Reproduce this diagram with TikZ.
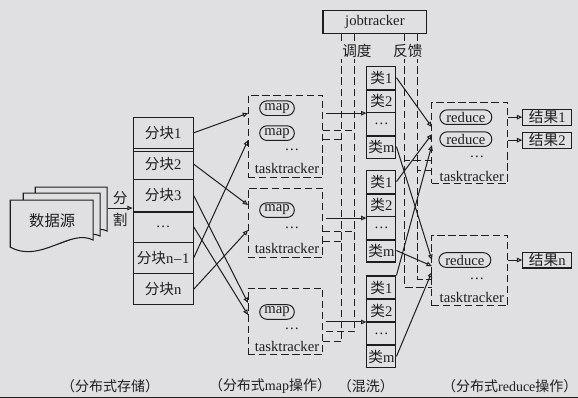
\documentclass[tikz,border=0pt]{standalone}
\usepackage{fontspec}
\setmainfont{Liberation Serif}
\newfontfamily\cjk{Noto Sans CJK SC}
\usetikzlibrary{arrows.meta,calc}
\definecolor{paper}{RGB}{224,224,226}
\definecolor{ink}{RGB}{30,30,30}

\begin{document}
\begin{tikzpicture}[x=0.75pt,y=-0.75pt,
  font=\fontsize{11}{13}\selectfont,
  every node/.style={inner sep=0pt,text=ink},
  every path/.style={draw=ink},
  tip/.style={-{Triangle[open,length=4pt,width=3.4pt]},line width=0.75pt},
  ctrl/.style={line width=0.75pt,dash pattern=on 5.5pt off 2.8pt},
  cell/.style={draw=ink,line width=0.8pt,fill=paper,minimum width=45pt,minimum height=23.5pt},
  kind/.style={draw=ink,line width=0.8pt,fill=paper,minimum width=21.75pt,minimum height=17.25pt},
  tracker/.style={draw=ink,line width=0.75pt,dash pattern=on 5.5pt off 2.8pt},
  task/.style={draw=ink,line width=0.75pt,rounded corners=5.5pt,inner xsep=3pt,minimum height=11pt},
  dots/.style={text height=1.5pt,text depth=0pt},
  result/.style={draw=ink,line width=0.8pt,fill=paper,minimum width=36.75pt,minimum height=12pt},
  caption/.style={fill=paper,inner sep=1pt}
]
\useasboundingbox (0,0) rectangle (578,397);
\fill[paper,draw=none] (0,0) rectangle (578,397);

% data source: a stack of three documents, back to front
\begin{scope}[line width=0.8pt,fill=paper]
  \filldraw (35,187) -- (107,187) -- (107,231) .. controls (90,222) and (62,252) .. (35,238) -- cycle;
  \filldraw (23,193) -- (100,193) -- (100,236) .. controls (80,226) and (52,258) .. (23,243) -- cycle;
  \filldraw (10,200) -- (93,200) -- (93,240) .. controls (70,228) and (40,264) .. (10,247) -- cycle;
\end{scope}
\node (src) at (52,221) {\cjk\fontsize{11.5}{13}\selectfont 数据源};
\node (splitA) at (120,198) {\cjk 分};
\node (splitB) at (120,220) {\cjk 割};
\coordinate (split) at (108,208);

% distributed storage column
\node[cell] (s1) at (163,132.7) {{\cjk 分块}1};
\node[cell] (s2) at (163,164.0) {{\cjk 分块}2};
\node[cell] (s3) at (163,195.3) {{\cjk 分块}3};
\node[cell] (sd) at (163,226.7) {\textellipsis};
\node[cell] (sn1) at (163,258.0) {{\cjk 分块}n\kern0.5pt\textendash\kern0.5pt1};
\node[cell] (sn) at (163,289.3) {{\cjk 分块}n};
\draw[line width=0.8pt] ([yshift=-2.2pt]s1.south west) -- ([yshift=-2.2pt]s1.south east);
\draw[line width=1.4pt] (s3.south west) -- (s3.south east);
\draw[tip] (split) -- (split -| s3.west);

% map tasktrackers
\node[tracker,minimum width=56.25pt,minimum height=61.5pt] (tt1) at (285.5,136) {};
\node[tracker,minimum width=56.25pt,minimum height=51.75pt] (tt2) at (285.5,222.5) {};
\node[tracker,minimum width=56.25pt,minimum height=50.25pt] (tt3) at (285.5,321.5) {};
\node[task,minimum width=26pt] (m1a) at (277,108) {map};
\node[task,minimum width=26pt] (m1b) at (277,133) {map};
\node[dots] (d1) at (292,149) {\textellipsis};
\node (l1) at (287,168) {tasktracker};
\node[task,minimum width=26pt] (m2) at (277,210) {map};
\node[dots] (d2) at (292,227) {\textellipsis};
\node (l2) at (287,248) {tasktracker};
\node[task,minimum width=26pt] (m3) at (277,312) {map};
\node[dots] (d3) at (292,329) {\textellipsis};
\node (l3) at (287,347) {tasktracker};

% input splits to map tasktrackers
\coordinate (i1a) at (248,113);
\coordinate (i1b) at (248,140);
\coordinate (i2a) at (248,205);
\coordinate (i2b) at (248,230);
\coordinate (i3a) at (248,303);
\coordinate (i3b) at (248,315);
\draw[tip] (s1.east) -- (i1a);
\draw[tip] (sn1.east) -- (i1b);
\draw[tip] (s2.east) -- (i2a);
\draw[tip] (sn.east) -- (i2b);
\draw[tip] (s3.east) -- (i3a);
\draw[tip] (sd.east) -- (i3b);

% shuffle: three groups of partitions
\foreach \g/\top in {1/66,2/170,3/276}{
  \node[kind] (g\g a) at (381.5,\top+11.5) {{\cjk 类}1};
  \node[kind] (g\g b) at (381.5,\top+34.5) {{\cjk 类}2};
  \node[kind] (g\g c) at (381.5,\top+57.5) {\textellipsis};
  \node[kind] (g\g m) at (381.5,\top+80.5) {{\cjk 类}m};
  \draw[line width=1.4pt] (g\g a.south west) -- (g\g a.south east);
  \draw[line width=1.4pt] (g\g c.south west) -- (g\g c.south east);
}

% map output into the shuffle groups
\coordinate (o1) at (326,113);
\coordinate (o2) at (326,218);
\coordinate (o3) at (326,322);
\draw[tip] (o1) -- (o1 -| g1a.west);
\draw[tip] (o2) -- (o2 -| g2a.west);
\draw[tip] (o3) -- (o3 -| g3a.west);

% jobtracker with scheduling and feedback links
\node[draw=ink,line width=0.8pt,fill=paper,minimum width=78pt,minimum height=17.25pt] (jt) at (375,21.5) {jobtracker};
\coordinate (jl1) at (342,33);
\coordinate (jl2) at (355,33);
\coordinate (jr1) at (405,33);
\coordinate (jr2) at (418,33);
\coordinate (t1s1) at (323,130);
\coordinate (t1s2) at (323,139);
\coordinate (t2s1) at (323,231);
\coordinate (t2s2) at (323,241);
\coordinate (t3s1) at (323,332);
\coordinate (t3s2) at (323,342);
\draw[ctrl] (jl1) |- (t3s2);
\draw[ctrl] (jl2) |- (t3s1);
\draw[ctrl] (t1s1) -- (t1s1 -| jl2);
\draw[ctrl] (t1s2) -- (t1s2 -| jl1);
\draw[ctrl] (t2s1) -- (t2s1 -| jl2);
\draw[ctrl] (t2s2) -- (t2s2 -| jl1);

% reduce tasktrackers
\node[tracker,minimum width=57pt,minimum height=60.75pt] (rt1) at (470,142.5) {};
\node[tracker,minimum width=57pt,minimum height=53.25pt] (rt2) at (470,270.5) {};
\node[task,minimum width=39pt] (r1a) at (466,117) {reduce};
\node[task,minimum width=39pt] (r1b) at (466,139) {reduce};
\node[dots] (d4) at (477,156) {\textellipsis};
\node (l4) at (472,176) {tasktracker};
\node[task,minimum width=39pt] (r2) at (465,260) {reduce};
\node[dots] (d5) at (477,278) {\textellipsis};
\node (l5) at (472,297) {tasktracker};

\coordinate (r1s1) at (432,160);
\coordinate (r1s2) at (432,170);
\coordinate (r2s1) at (432,287);
\coordinate (r2s2) at (432,279);
\draw[ctrl] (jr1) |- (r2s1);
\draw[ctrl] (jr2) |- (r2s2);
\draw[ctrl] (r1s1) -- (r1s1 -| jr1);
\draw[ctrl] (r1s2) -- (r1s2 -| jr2);

% link captions
\node[caption] (cs) at (357,51) {\cjk 调度};
\node[caption] (cf) at (408,51) {\cjk 反馈};

% partitions to reducers
\coordinate (ri1) at (432,127);
\coordinate (ri2) at (432,134);
\coordinate (ri3) at (432,145);
\coordinate (ri4) at (432,260);
\coordinate (ri5) at (432,266);
\coordinate (ri6) at (432,272);
\draw[tip] (g1a.east) -- (ri1);
\draw[tip] (g2a.east) -- (ri2);
\draw[tip] (g3a.north east) -- (ri3);
\draw[tip] (g1m.east) -- (ri4);
\draw[tip] (g2m.east) -- (ri5);
\draw[tip] (g3m.east) -- (ri6);

% results
\node[result] (res1) at (547.5,117) {{\cjk 结果}1};
\node[result] (res2) at (547.5,140) {{\cjk 结果}2};
\node[result] (resn) at (547.5,260) {{\cjk 结果}n};
\draw[tip] (res1.west -| rt1.east) -- (res1.west);
\draw[tip] (res2.west -| rt1.east) -- (res2.west);
\draw[tip] (resn.west -| rt2.east) -- (resn.west);

% stage captions
\begin{scope}[font=\fontsize{10.5}{12}\selectfont]
\node (st1) at (110,386) {\cjk （分布式存储）};
\node (st2) at (270,386) {{\cjk （分布式}map{\cjk 操作）}};
\node (st3) at (366,386) {\cjk （混洗）};
\node (st4) at (510,386) {{\cjk （分布式}reduce{\cjk 操作）}};
\end{scope}
\end{tikzpicture}
\end{document}
